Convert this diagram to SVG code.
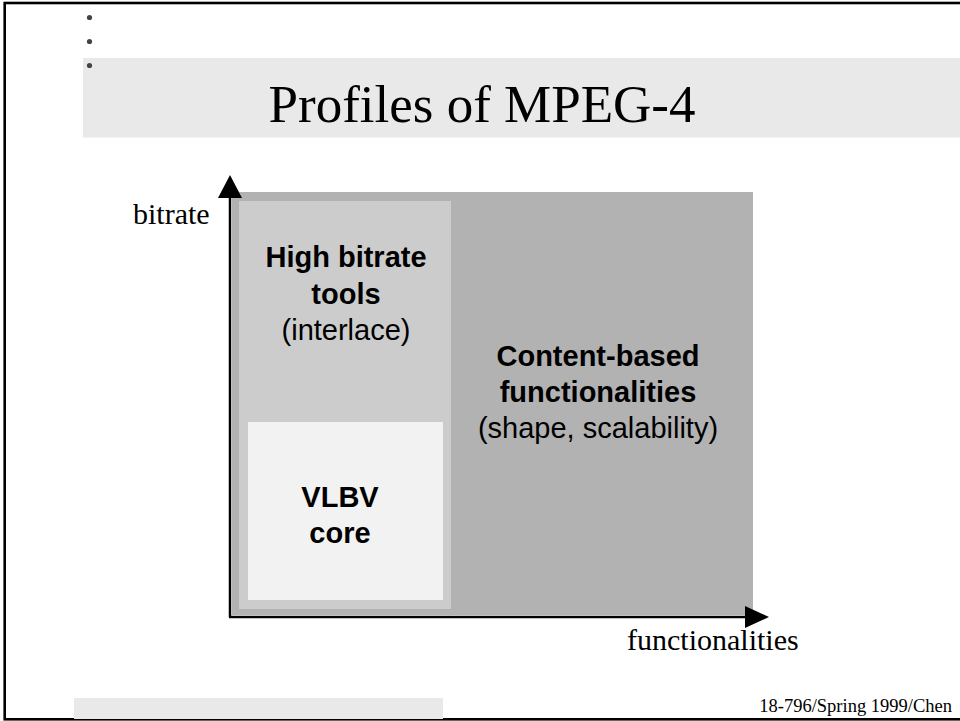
<svg xmlns="http://www.w3.org/2000/svg" width="960" height="721" viewBox="0 0 960 721">
<style>
.serif{font-family:"Liberation Serif","Times New Roman",serif;fill:#000}
.sans{font-family:"Liberation Sans",Arial,sans-serif;fill:#000;text-anchor:middle;font-size:29px}
.b{font-weight:bold}
.axis{stroke:#000;stroke-width:2.5;fill:none}
</style>
<rect x="0" y="0" width="960" height="721" fill="#fff"/>
<rect x="4.7" y="3" width="960" height="716.3" fill="none" stroke="#000" stroke-width="2.6"/>
<g id="title">
<rect x="83" y="58" width="877" height="79.5" fill="#e9e9e9"/>
<text class="serif" x="482" y="122" font-size="53" text-anchor="middle">Profiles of MPEG-4</text>
</g>
<g id="bullets" fill="#444">
<circle cx="89.5" cy="17.5" r="2.6"/>
<circle cx="89.5" cy="41.5" r="2.6"/>
<circle cx="89.5" cy="65.5" r="2.6"/>
</g>
<g id="content-based">
<rect x="232" y="192" width="521" height="423" fill="#b2b2b2"/>
<text class="sans b" x="598" y="366">Content-based</text>
<text class="sans b" x="598" y="402">functionalities</text>
<text class="sans" x="598" y="438">(shape, scalability)</text>
</g>
<g id="high-bitrate">
<rect x="239" y="201" width="212" height="408" fill="#cccccc"/>
<text class="sans b" x="346" y="267">High bitrate</text>
<text class="sans b" x="346" y="304">tools</text>
<text class="sans" x="346" y="340">(interlace)</text>
</g>
<g id="vlbv">
<rect x="248" y="422" width="195" height="178" fill="#f2f2f2"/>
<text class="sans b" x="340" y="507">VLBV</text>
<text class="sans b" x="340" y="543">core</text>
</g>
<g id="connectors">
<line class="axis" x1="230" y1="196" x2="230" y2="617"/>
<polygon points="218,198 230,175 242,198" fill="#000"/>
<line class="axis" x1="229" y1="617" x2="746" y2="617"/>
<polygon points="745,606 769,617 745,628" fill="#000"/>
</g>
<text class="serif" x="133" y="224" font-size="30">bitrate</text>
<text class="serif" x="627" y="650" font-size="30">functionalities</text>
<g id="footer">
<rect x="74" y="698" width="369" height="21" fill="#e9e9e9"/>
<text class="serif" x="952" y="712" font-size="18.5" text-anchor="end">18-796/Spring 1999/Chen</text>
</g>
</svg>
